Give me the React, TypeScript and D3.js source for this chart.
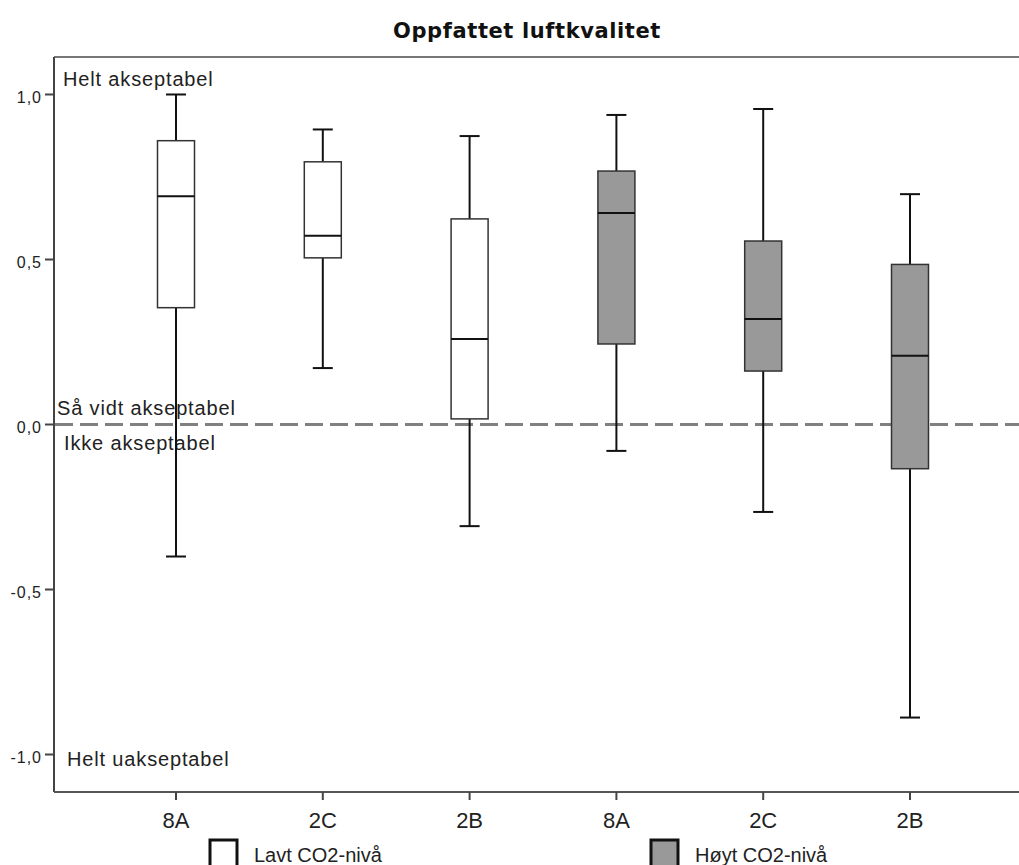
import React from 'react';
import { scaleLinear, scalePoint, format } from 'd3';

const categories = ['8A', '2C', '2B', '8A', '2C', '2B'];
const co2Level = ['low', 'low', 'low', 'high', 'high', 'high'];
const whiskerMin = [-0.4, 0.171, -0.308, -0.08, -0.265, -0.888];
const q1 = [0.354, 0.505, 0.017, 0.244, 0.162, -0.134];
const median = [0.692, 0.572, 0.259, 0.641, 0.32, 0.208];
const q3 = [0.86, 0.796, 0.623, 0.768, 0.556, 0.485];
const whiskerMax = [1.0, 0.894, 0.874, 0.938, 0.956, 0.698];
const yTicks = [1, 0.5, 0, -0.5, -1];
const legendItems = [
  { key: 'low', label: 'Lavt CO2-nivå' },
  { key: 'high', label: 'Høyt CO2-nivå' },
];
const annotations = [
  { text: 'Helt akseptabel', value: 1, dx: 9, dy: -8.5 },
  { text: 'Så vidt akseptabel', value: 0, dx: 3, dy: -9.5 },
  { text: 'Ikke akseptabel', value: 0, dx: 10, dy: 25.5 },
  { text: 'Helt uakseptabel', value: -1, dx: 13, dy: 11.5 },
];

const W = 1019;
const H = 865;
const left = 54;
const top = 57;
const bottom = 792;
const boxW = 37;
const capW = 20;
const fills = { low: '#ffffff', high: '#999999' };
const font = 'Liberation Sans, Arial, sans-serif';

const App = () => {
  const y = scaleLinear().domain([-1.1136, 1.1136]).range([bottom, top]);
  const x = scalePoint()
    .domain(categories.map((_, i) => String(i)))
    .range([176, 910]);
  const fmt = (v: number) => format('.1f')(v).replace('.', ',').replace('−', '-');

  return (
    <svg
      width={W}
      height={H}
      style={{ position: 'absolute', left: 0, top: 0, background: '#fff' }}
      fontFamily={font}
    >
      <text
        x={527}
        y={38}
        textAnchor='middle'
        fontFamily='DejaVu Sans, sans-serif'
        fontSize={21}
        fontWeight='bold'
        letterSpacing={0.6}
        fill='#111'
      >
        Oppfattet luftkvalitet
      </text>

      {/* frame */}
      <line x1={left} x2={W} y1={top} y2={top} stroke='#777' strokeWidth={2} />
      <line x1={left} x2={left} y1={top} y2={bottom} stroke='#444' strokeWidth={2} />
      <line x1={left} x2={W} y1={bottom} y2={bottom} stroke='#555' strokeWidth={2} />

      {yTicks.map((t) => (
        <g key={t}>
          <line x1={left - 9} x2={left} y1={y(t)} y2={y(t)} stroke='#444' strokeWidth={2} />
          <text
            x={left - 12}
            y={y(t) + 8.7}
            textAnchor='end'
            fontSize={16}
            letterSpacing={1}
            fill='#222'
          >
            {fmt(t)}
          </text>
        </g>
      ))}

      {categories.map((c, i) => (
        <g key={i}>
          <line
            x1={x(String(i))}
            x2={x(String(i))}
            y1={bottom}
            y2={bottom + 8}
            stroke='#444'
            strokeWidth={2}
          />
          <text x={x(String(i))} y={828} textAnchor='middle' fontSize={22} fill='#222'>
            {c}
          </text>
        </g>
      ))}

      {/* reference line */}
      <line
        x1={left + 1}
        x2={W}
        y1={y(0)}
        y2={y(0)}
        stroke='#808080'
        strokeWidth={3}
        strokeDasharray='18,7'
      />

      {annotations.map((a) => (
        <text
          key={a.text}
          x={left + a.dx}
          y={y(a.value) + a.dy}
          fontSize={20}
          letterSpacing={0.85}
          fill='#222'
        >
          {a.text}
        </text>
      ))}

      {categories.map((_, i) => {
        const cx = x(String(i)) as number;
        return (
          <g key={'box' + i}>
            <line x1={cx} x2={cx} y1={y(whiskerMax[i])} y2={y(q3[i])} stroke='#111' strokeWidth={2} />
            <line x1={cx} x2={cx} y1={y(q1[i])} y2={y(whiskerMin[i])} stroke='#111' strokeWidth={2} />
            <line
              x1={cx - capW / 2}
              x2={cx + capW / 2}
              y1={y(whiskerMax[i])}
              y2={y(whiskerMax[i])}
              stroke='#111'
              strokeWidth={2}
            />
            <line
              x1={cx - capW / 2}
              x2={cx + capW / 2}
              y1={y(whiskerMin[i])}
              y2={y(whiskerMin[i])}
              stroke='#111'
              strokeWidth={2}
            />
            <rect
              x={cx - boxW / 2}
              y={y(q3[i])}
              width={boxW}
              height={y(q1[i]) - y(q3[i])}
              fill={fills[co2Level[i]]}
              stroke='#333'
              strokeWidth={1.5}
            />
            <line
              x1={cx - boxW / 2}
              x2={cx + boxW / 2}
              y1={y(median[i])}
              y2={y(median[i])}
              stroke='#111'
              strokeWidth={2}
            />
          </g>
        );
      })}

      {legendItems.map((l, i) => {
        const lx = i === 0 ? 210 : 651;
        return (
          <g key={l.key}>
            <rect x={lx} y={840} width={27} height={30} fill={fills[l.key]} stroke='#111' strokeWidth={3} />
            <text x={lx + 44} y={862} fontSize={20} fill='#222'>
              {l.label}
            </text>
          </g>
        );
      })}
    </svg>
  );
};

export default App;
